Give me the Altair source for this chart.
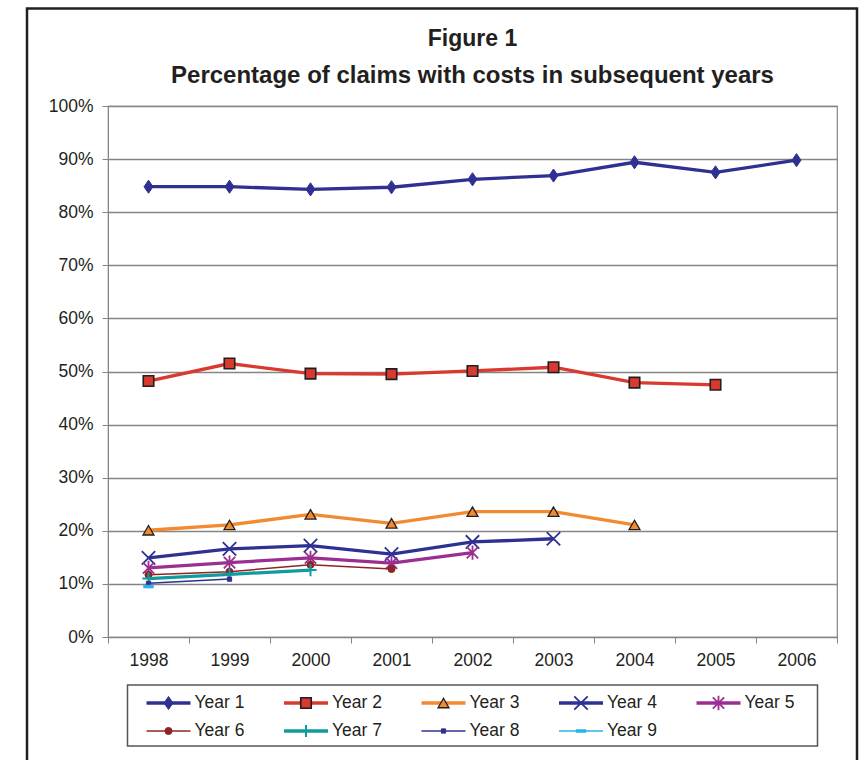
import altair as alt
import pandas as pd

years = ["1998", "1999", "2000", "2001", "2002", "2003", "2004", "2005", "2006"]
series_names = ["Year 1", "Year 2", "Year 3", "Year 4", "Year 5",
                "Year 6", "Year 7", "Year 8", "Year 9"]
year1 = [84.8, 84.8, 84.3, 84.7, 86.2, 86.9, 89.4, 87.5, 89.8]
year2 = [48.2, 51.5, 49.6, 49.5, 50.1, 50.8, 47.9, 47.5]
year3 = [20.1, 21.1, 23.1, 21.4, 23.6, 23.6, 21.1]
year4 = [14.9, 16.6, 17.2, 15.6, 17.9, 18.5]
year5 = [13.0, 14.0, 14.9, 13.9, 15.9]
year6 = [11.7, 12.3, 13.6, 12.8]
year7 = [11.0, 11.8, 12.6]
year8 = [10.1, 10.9]
year9 = [9.5]
all_values = [year1, year2, year3, year4, year5, year6, year7, year8, year9]
y_ticks = [0, 10, 20, 30, 40, 50, 60, 70, 80, 90, 100]
legend_cols = [0, 1, 2, 3, 4, 0, 1, 2, 3]
legend_rows = [0, 0, 0, 0, 0, 1, 1, 1, 1]

FONT = "Liberation Sans"
TXT = "#231F20"
GRID = "#858585"
NAVY = "#2E3192"
DARK = "#231F20"

X_PATH = "M-1,-1L1,1M-1,1L1,-1"
STAR_PATH = "M-1,-1L1,1M-1,1L1,-1M0,-1.25L0,1.25"
PLUS_PATH = "M-1,0L1,0M0,-1L0,1"
DIAMOND_PATH = "M0,-1.25L0.85,0L0,1.25L-0.85,0Z"
DASH_PATH = "M-1,-0.3L1,-0.3L1,0.3L-1,0.3Z"

styles = [
    dict(color=NAVY, width=3.3, shape=DIAMOND_PATH, size=110, filled=True, fill=NAVY, stroke=NAVY, sw=1),
    dict(color="#D93A30", width=3.3, shape="square", size=110, filled=True, fill="#D93A30", stroke=DARK, sw=1.6),
    dict(color="#F28A30", width=3.3, shape="triangle-up", size=120, filled=True, fill="#F28A30", stroke=DARK, sw=1.3),
    dict(color=NAVY, width=3.3, shape=X_PATH, size=180, filled=False, fill="transparent", stroke=NAVY, sw=1.8),
    dict(color="#9B2F91", width=3.3, shape=STAR_PATH, size=130, filled=False, fill="transparent", stroke="#9B2F91", sw=1.8),
    dict(color="#8E2424", width=1.5, shape="circle", size=50, filled=True, fill="#8E2424", stroke="#8E2424", sw=1),
    dict(color="#0E9C9E", width=3.3, shape=PLUS_PATH, size=150, filled=False, fill="transparent", stroke="#0E9C9E", sw=2),
    dict(color=NAVY, width=1.5, shape="square", size=18, filled=True, fill=NAVY, stroke=NAVY, sw=1),
    dict(color="#29B5E8", width=1.5, shape=DASH_PATH, size=100, filled=True, fill="#29B5E8", stroke="#29B5E8", sw=0.5),
]

x_enc = alt.X(
    "year:N",
    sort=years,
    scale=alt.Scale(type="band", domain=years, paddingInner=0, paddingOuter=0),
    axis=alt.Axis(title=None, labelAngle=0, tickBand="extent", tickSize=6,
                  tickColor=GRID, domainColor=GRID, labelPadding=8,
                  labelFontSize=17.5, labelFont=FONT, labelColor=TXT, grid=False),
)
y_enc = alt.Y(
    "value:Q",
    scale=alt.Scale(domain=[0, 100], nice=False, zero=True),
    axis=alt.Axis(title=None, values=y_ticks, labelExpr="datum.value + '%'",
                  tickSize=6, tickColor=GRID, domainColor=GRID, gridColor=GRID,
                  gridWidth=1.3, labelPadding=9, labelFontSize=17.5, labelFont=FONT,
                  labelColor=TXT),
)

frame = alt.Chart(alt.Data(values=[{}])).mark_rect(
    fillOpacity=0, stroke=DARK, strokeWidth=2.5
).encode(x=alt.value(-81), x2=alt.value(749), y=alt.value(-97.5), y2=alt.value(700))

layers = [frame]
legend_layers = []
for i, name in enumerate(series_names):
    vals = all_values[i]
    st = styles[i]
    df = pd.DataFrame({"year": years[:len(vals)], "value": vals, "series": name})
    base = alt.Chart(df)
    layers.append(base.mark_line(color=st["color"], strokeWidth=st["width"]).encode(x=x_enc, y=y_enc))
    layers.append(base.mark_point(shape=st["shape"], size=st["size"], filled=st["filled"],
                                  fill=st["fill"], stroke=st["stroke"], strokeWidth=st["sw"],
                                  opacity=1).encode(x=x_enc, y=y_enc))

    ldf = pd.DataFrame({"label": [name], "col": [legend_cols[i]], "row": [legend_rows[i]]})
    lx = alt.X("col:Q", scale=alt.Scale(domain=[0, 5], range=[19, 706.5]), axis=None)
    ly = alt.Y("row:Q", scale=alt.Scale(domain=[0, 1], range=[18, 46]), axis=None)
    lb = alt.Chart(ldf)
    legend_layers.append(lb.mark_rule(color=st["color"], strokeWidth=st["width"], x2Offset=44)
                         .encode(x=lx, x2=alt.X2("col"), y=ly))
    legend_layers.append(lb.mark_point(shape=st["shape"], size=st["size"], filled=st["filled"],
                                       fill=st["fill"], stroke=st["stroke"], strokeWidth=st["sw"],
                                       opacity=1, xOffset=22).encode(x=lx, y=ly))
    legend_layers.append(lb.mark_text(align="left", baseline="middle", dx=48, fontSize=17.5,
                                      font=FONT, color=TXT).encode(x=lx, y=ly, text="label:N"))

main = alt.layer(*layers).properties(
    width=729, height=531,
    view=alt.ViewBackground(stroke=GRID, strokeWidth=1.2),
    title=alt.TitleParams(
        text="Figure 1",
        subtitle="Percentage of claims with costs in subsequent years",
        font=FONT, fontSize=23, fontWeight="bold", color=TXT,
        subtitleFont=FONT, subtitleFontSize=24, subtitleFontWeight="bold",
        subtitleColor=TXT, subtitlePadding=13,
        anchor="middle", frame="group", offset=-81,
    ),
)

legend = alt.layer(*legend_layers).properties(
    width=690, height=61,
    view=alt.ViewBackground(stroke="#555555", strokeWidth=1.5),
)

chart = alt.vconcat(main, legend, spacing=48, center=True, bounds="flush").properties(
    padding={"left": 25, "top": 6, "right": 5, "bottom": 5},
    background="white",
)

chart.save("out.html", embed_options={"renderer": "svg", "actions": False})
